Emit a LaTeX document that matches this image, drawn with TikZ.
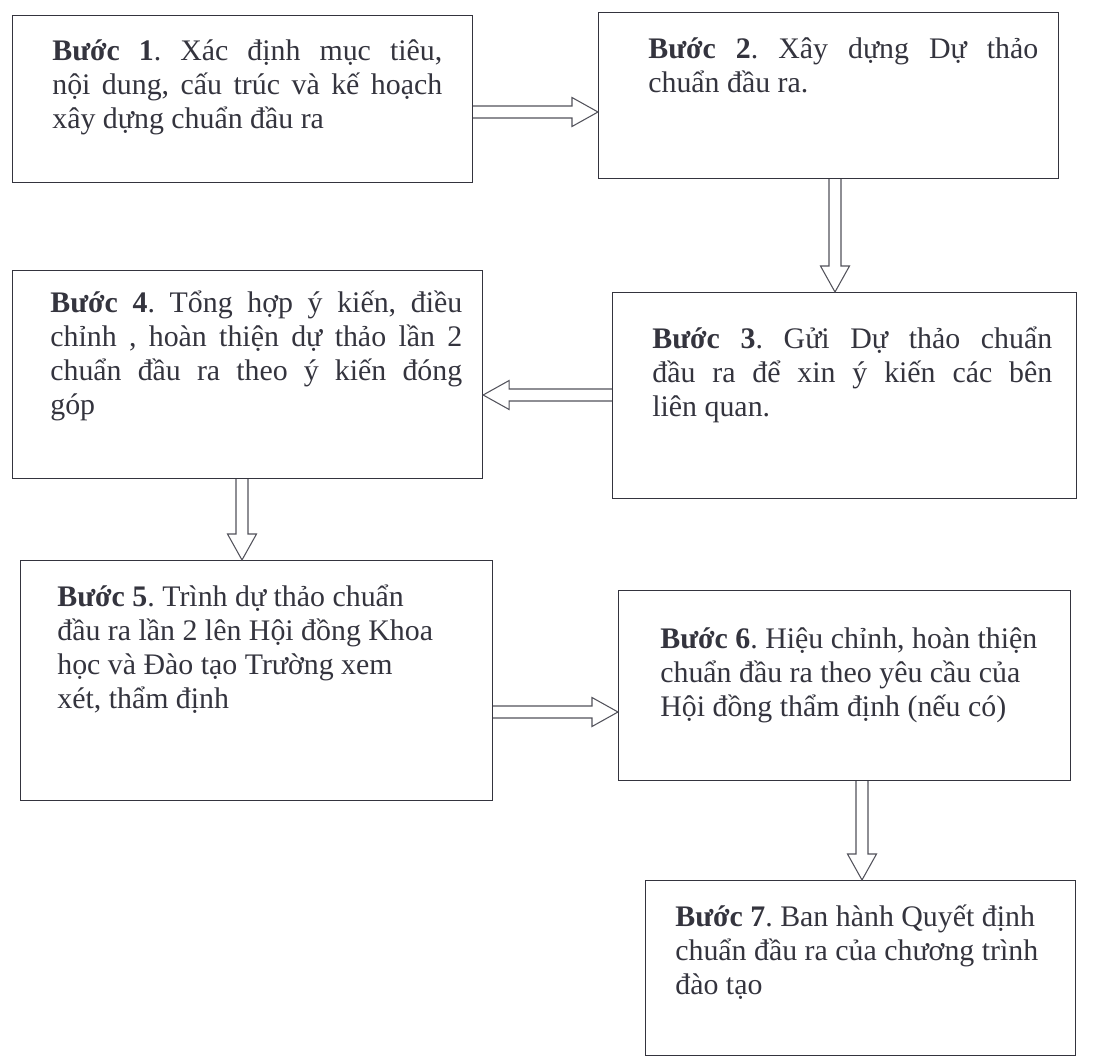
\documentclass[tikz,border=0pt]{standalone}
\usepackage{fontspec}
\setmainfont{Liberation Serif}
\usetikzlibrary{calc}
\definecolor{inkgray}{HTML}{34343E}

\newcommand{\blockarrow}[2]{%
  \coordinate (ba-s) at #1;
  \coordinate (ba-t) at #2;
  \coordinate (ba-h) at ($(ba-t)!0.52cm!(ba-s)$);
  \draw[arrowline] ($(ba-s)!0.12cm!90:(ba-t)$) -- ($(ba-h)!0.12cm!90:(ba-t)$)
    -- ($(ba-h)!0.29cm!90:(ba-t)$) -- (ba-t) -- ($(ba-h)!0.29cm!-90:(ba-t)$)
    -- ($(ba-h)!0.12cm!-90:(ba-t)$) -- ($(ba-s)!0.12cm!-90:(ba-t)$);
}

\begin{document}
\frenchspacing
\begin{tikzpicture}[x=0.02cm,y=-0.02cm,
  every node/.style={font=\fontsize{17}{19.4}\selectfont, text=inkgray},
  stepbox/.style={draw=inkgray, line width=0.7pt, anchor=north west, inner sep=0pt},
  steptext/.style={anchor=base west, inner sep=0pt, align=justify},
  arrowline/.style={draw=inkgray!85, line width=0.6pt, line join=miter}]
\useasboundingbox (0,0) rectangle (1100,1062);

\node[stepbox, minimum width=9.2cm, minimum height=3.34cm] (b1) at (12,15) {};
\node[stepbox, minimum width=9.2cm, minimum height=3.32cm] (b2) at (598,12) {};
\node[stepbox, minimum width=9.28cm, minimum height=4.12cm] (b3) at (612,292) {};
\node[stepbox, minimum width=9.4cm, minimum height=4.16cm] (b4) at (12,270) {};
\node[stepbox, minimum width=9.44cm, minimum height=4.8cm] (b5) at (20,560) {};
\node[stepbox, minimum width=9.04cm, minimum height=3.8cm] (b6) at (618,590) {};
\node[stepbox, minimum width=8.6cm, minimum height=3.5cm] (b7) at (645,880) {};

\node[steptext, text width=7.8cm] (t1) at (52,60)
  {\textbf{Bước 1}. Xác định mục tiêu,\linebreak nội dung, cấu trúc và kế hoạch\linebreak xây dựng chuẩn đầu ra};
\node[steptext, text width=7.8cm] (t2) at (648,58)
  {\textbf{Bước 2}. Xây dựng Dự thảo\linebreak chuẩn đầu ra.};
\node[steptext, text width=8cm] (t3) at (652,348)
  {\textbf{Bước 3}. Gửi Dự thảo chuẩn\linebreak đầu ra để xin ý kiến các bên\linebreak liên quan.};
\node[steptext, text width=8.24cm] (t4) at (50,312)
  {\textbf{Bước 4}. Tổng hợp ý kiến, điều\linebreak chỉnh , hoàn thiện dự thảo lần 2\linebreak chuẩn đầu ra theo ý kiến đóng\linebreak góp};
\node[steptext, text width=8.4cm] (t5) at (57,606)
  {\textbf{Bước 5}. Trình dự thảo chuẩn\newline đầu ra lần 2 lên Hội đồng Khoa\newline học và Đào tạo Trường xem\newline xét, thẩm định};
\node[steptext, text width=8.2cm] (t6) at (660,648)
  {\textbf{Bước 6}. Hiệu chỉnh, hoàn thiện\newline chuẩn đầu ra theo yêu cầu của\newline Hội đồng thẩm định (nếu có)};
\node[steptext, text width=7.8cm] (t7) at (675,926)
  {\textbf{Bước 7}. Ban hành Quyết định\newline chuẩn đầu ra của chương trình\newline đào tạo};

\blockarrow{(b1.east |- 0,112)}{(b2.west |- 0,112)}
\blockarrow{(b2.south -| 835,0)}{(b3.north -| 835,0)}
\blockarrow{(b3.west |- 0,395)}{(b4.east |- 0,395)}
\blockarrow{(b4.south -| 242,0)}{(b5.north -| 242,0)}
\blockarrow{(b5.east |- 0,712)}{(b6.west |- 0,712)}
\blockarrow{(b6.south -| 862,0)}{(b7.north -| 862,0)}
\end{tikzpicture}
\end{document}
